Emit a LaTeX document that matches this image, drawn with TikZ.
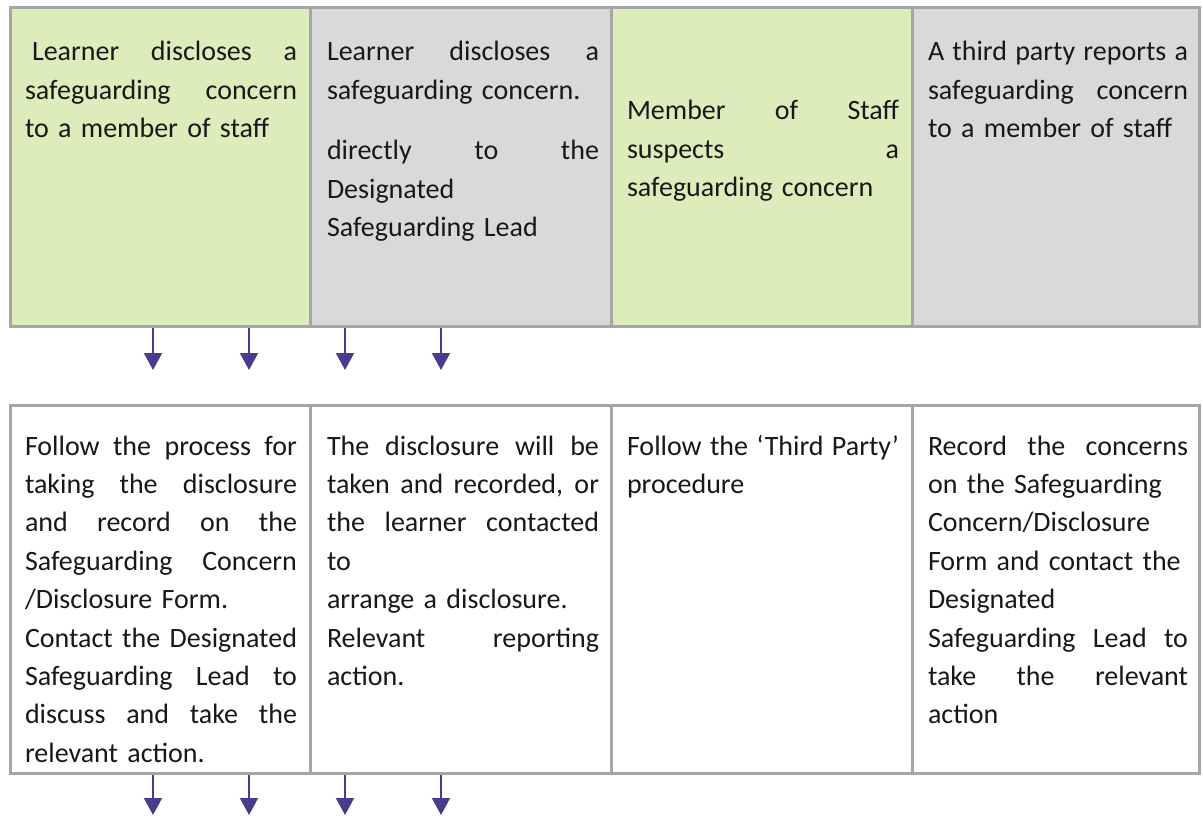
\documentclass[tikz,border=0pt]{standalone}
\usepackage{fontspec}
\setmainfont{Carlito}
\usetikzlibrary{arrows.meta}

\definecolor{cellgreen}{RGB}{220,236,186}
\definecolor{cellgray}{RGB}{217,217,217}
\definecolor{rulegray}{RGB}{166,166,166}
\definecolor{arrowpurple}{RGB}{76,58,140}
\definecolor{ink}{RGB}{24,24,24}

% a justified line of a given width: every interword space stretches equally
\newcommand\jline[2]{\makebox[#1][s]{\spaceskip=0.25em plus 1fil\relax #2}}
% first-line strut: top of a text block sits 22pt above its first baseline
\newcommand\firststrut{\rule{0pt}{22pt}}

\begin{document}
\begin{tikzpicture}[x=1pt,y=-1pt,
  cellbox/.style={draw=rulegray,line width=3pt,rectangle,inner sep=0pt,outer sep=0pt,anchor=north west},
  celltext/.style={anchor=north west,inner sep=0pt,outer sep=0pt,align=left,text=ink,
    font=\fontsize{28}{38.4}\selectfont},
  flowarrow/.style={draw=arrowpurple,line width=2pt,-{Triangle[width=18pt,length=17pt]}}
]
\useasboundingbox (0,0) rectangle (1203,816);

% ---------- upper row ----------
\node[cellbox,fill=cellgreen,minimum width=300pt,minimum height=318pt] (t1) at (10,8) {};
\node[cellbox,fill=cellgray, minimum width=301pt,minimum height=318pt] (t2) at (310,8) {};
\node[cellbox,fill=cellgreen,minimum width=301pt,minimum height=318pt] (t3) at (611,8) {};
\node[cellbox,fill=cellgray, minimum width=287pt,minimum height=318pt] (t4) at (912,8) {};

\node[celltext,text width=272pt] (t1txt) at (25,39) {%
\firststrut\jline{272pt}{\hspace*{7pt}Learner discloses a}\\
\jline{272pt}{safeguarding concern}\\
to a member of staff};

\node[celltext,text width=272pt] (t2txt) at (327,39) {%
\firststrut\jline{272pt}{Learner discloses a}\\
safeguarding concern.\\[22pt]
\jline{272pt}{directly to the}\\
Designated\\
Safeguarding Lead};

\node[celltext,text width=272pt] (t3txt) at (627,98) {%
\firststrut\jline{272pt}{Member of Staff}\\
\jline{272pt}{suspects a}\\
safeguarding concern};

\node[celltext,text width=260pt] (t4txt) at (928,39) {%
\firststrut\jline{260pt}{A third party reports a}\\
\jline{260pt}{safeguarding concern}\\
to a member of staff};

% ---------- lower row ----------
\node[cellbox,fill=white,minimum width=300pt,minimum height=368pt] (b1) at (10,405) {};
\node[cellbox,fill=white,minimum width=301pt,minimum height=368pt] (b2) at (310,405) {};
\node[cellbox,fill=white,minimum width=301pt,minimum height=368pt] (b3) at (611,405) {};
\node[cellbox,fill=white,minimum width=287pt,minimum height=368pt] (b4) at (912,405) {};

\node[celltext,text width=272pt] (b1txt) at (25,433) {%
\firststrut\jline{272pt}{Follow the process for}\\
\jline{272pt}{taking the disclosure}\\
\jline{272pt}{and record on the}\\
\jline{272pt}{Safeguarding Concern}\\
/Disclosure Form.\\
\jline{272pt}{Contact the Designated}\\
\jline{272pt}{Safeguarding Lead to}\\
\jline{272pt}{discuss and take the}\\
relevant action.};

\node[celltext,text width=272pt] (b2txt) at (327,433) {%
\firststrut\jline{272pt}{The disclosure will be}\\
\jline{272pt}{taken and recorded, or}\\
\jline{272pt}{the learner contacted}\\
to\\
arrange a disclosure.\\
\jline{272pt}{Relevant reporting}\\
action.};

\node[celltext,text width=272pt] (b3txt) at (627,433) {%
\firststrut\jline{272pt}{Follow the ‘Third Party’}\\
procedure};

\node[celltext,text width=260pt] (b4txt) at (928,433) {%
\firststrut\jline{260pt}{Record the concerns}\\
on the Safeguarding\\
Concern/Disclosure\\
Form and contact the\\
Designated\\
\jline{260pt}{Safeguarding Lead to}\\
\jline{260pt}{take the relevant}\\
action};

% ---------- arrows ----------
\coordinate (u1) at (153,328); \coordinate (u1e) at (153,370);
\coordinate (u2) at (249,328); \coordinate (u2e) at (249,370);
\coordinate (u3) at (345,328); \coordinate (u3e) at (345,370);
\coordinate (u4) at (441,328); \coordinate (u4e) at (441,370);
\draw[flowarrow] (u1) -- (u1e);
\draw[flowarrow] (u2) -- (u2e);
\draw[flowarrow] (u3) -- (u3e);
\draw[flowarrow] (u4) -- (u4e);

\coordinate (l1) at (153,775); \coordinate (l1e) at (153,815);
\coordinate (l2) at (249,775); \coordinate (l2e) at (249,815);
\coordinate (l3) at (345,775); \coordinate (l3e) at (345,815);
\coordinate (l4) at (441,775); \coordinate (l4e) at (441,815);
\draw[flowarrow] (l1) -- (l1e);
\draw[flowarrow] (l2) -- (l2e);
\draw[flowarrow] (l3) -- (l3e);
\draw[flowarrow] (l4) -- (l4e);
\end{tikzpicture}
\end{document}
